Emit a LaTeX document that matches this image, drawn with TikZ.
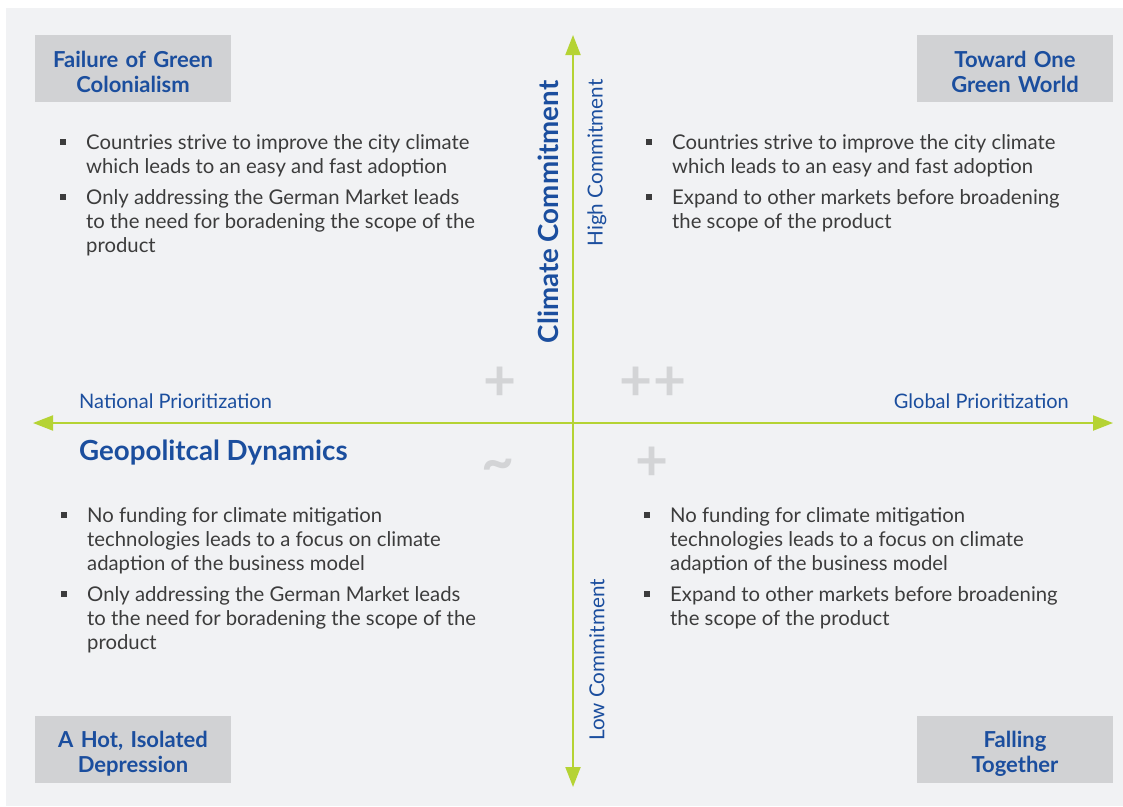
\documentclass[tikz,border=0pt]{standalone}
\usepackage{fontspec}
\setmainfont{Lato}
\usetikzlibrary{arrows.meta}

\definecolor{bgpanel}{HTML}{F1F2F4}
\definecolor{boxgrey}{HTML}{D1D2D4}
\definecolor{titleblue}{HTML}{1B4E9E}
\definecolor{axisgreen}{HTML}{B5D334}
\definecolor{bodygrey}{HTML}{3C3C3C}
\definecolor{signgrey}{HTML}{D3D4D6}

\newcommand{\bul}{\raisebox{4pt}{\rule{6pt}{6pt}}}

\tikzset{
  scenario/.style={fill=boxgrey, minimum width=196pt, minimum height=67pt, text width=190pt,
    text height=24pt, align=center, inner sep=0pt, text=titleblue,
    font=\fontsize{22}{25}\selectfont\bfseries},
  bullets/.style={anchor=north west, inner sep=0pt, text=bodygrey, font=\fontsize{20.3}{24}\selectfont},
  axis/.style={draw=axisgreen, line width=2pt,
    {Triangle[length=20pt,width=15pt]}-{Triangle[length=20pt,width=15pt]}},
  axislabel/.style={text=titleblue, inner sep=0pt, font=\fontsize{20}{22}\selectfont},
  axistitle/.style={text=titleblue, inner sep=0pt, font=\fontsize{27.7}{30}\selectfont\bfseries},
  sign/.style={text=signgrey, inner sep=0pt, font=\fontsize{57}{57}\selectfont\bfseries}
}

\begin{document}
\begin{tikzpicture}[x=1pt,y=-1pt]
\useasboundingbox (0,0) rectangle (1123,806);

%% Background panel %%
\fill[bgpanel] (6,8) rectangle (1123,806);

%% Axes %%
\coordinate (top) at (573,35);
\coordinate (bottom) at (573,787);
\coordinate (west) at (33,423);
\coordinate (east) at (1113,423);
\draw[axis] (bottom) -- (top);
\draw[axis] (west) -- (east);

% axis labels %
\node[axislabel, anchor=base west] (national) at (79,408) {National Prioritization};
\node[axislabel, anchor=base east] (global) at (1069,408) {Global Prioritization};
\node[axistitle, anchor=base west] (geo) at (79,460) {Geopolitcal Dynamics};
\node[axistitle, rotate=90] (climate) at (548,212) {Climate Commitment};
\node[axislabel, rotate=90, font=\fontsize{20.7}{22}\selectfont] (high) at (597,163) {High Commitment};
\node[axislabel, rotate=90, font=\fontsize{20.7}{22}\selectfont] (low) at (597,660) {Low Commitment};

% signs %
\node[sign] (signnw) at (500,384) {+};
\node[sign] (signne) at (653,384) {++};
\node[sign] (signsw) at (498,470) {\textasciitilde};
\node[sign] (signse) at (652,464) {+};

%% Scenario boxes %%
\node[scenario] (failure) at (133,68.5) {Failure of Green\\Colonialism};
\node[scenario] (oneworld) at (1015,68.5) {Toward One\\Green World};
\node[scenario] (hot) at (133,749.5) {A Hot, Isolated\\Depression};
\node[scenario] (falling) at (1015,749.5) {Falling\\Together};

%% Bullet lists %%
\node[bullets] (listnw) at (60,132) {\begin{tabular}{@{}p{26pt}@{}l@{}}
  \bul & Countries strive to improve the city climate\\
       & which leads to an easy and fast adoption\\[7pt]
  \bul & Only addressing the German Market leads\\
       & to the need for boradening the scope of the\\
       & product
\end{tabular}};
\node[bullets] (listne) at (646,132) {\begin{tabular}{@{}p{26pt}@{}l@{}}
  \bul & Countries strive to improve the city climate\\
       & which leads to an easy and fast adoption\\[7pt]
  \bul & Expand to other markets before broadening\\
       & the scope of the product
\end{tabular}};
\node[bullets] (listsw) at (61,505) {\begin{tabular}{@{}p{26pt}@{}l@{}}
  \bul & No funding for climate mitigation\\
       & technologies leads to a focus on climate\\
       & adaption of the business model\\[7pt]
  \bul & Only addressing the German Market leads\\
       & to the need for boradening the scope of the\\
       & product
\end{tabular}};
\node[bullets] (listse) at (644,505) {\begin{tabular}{@{}p{26pt}@{}l@{}}
  \bul & No funding for climate mitigation\\
       & technologies leads to a focus on climate\\
       & adaption of the business model\\[7pt]
  \bul & Expand to other markets before broadening\\
       & the scope of the product
\end{tabular}};

\end{tikzpicture}
\end{document}
